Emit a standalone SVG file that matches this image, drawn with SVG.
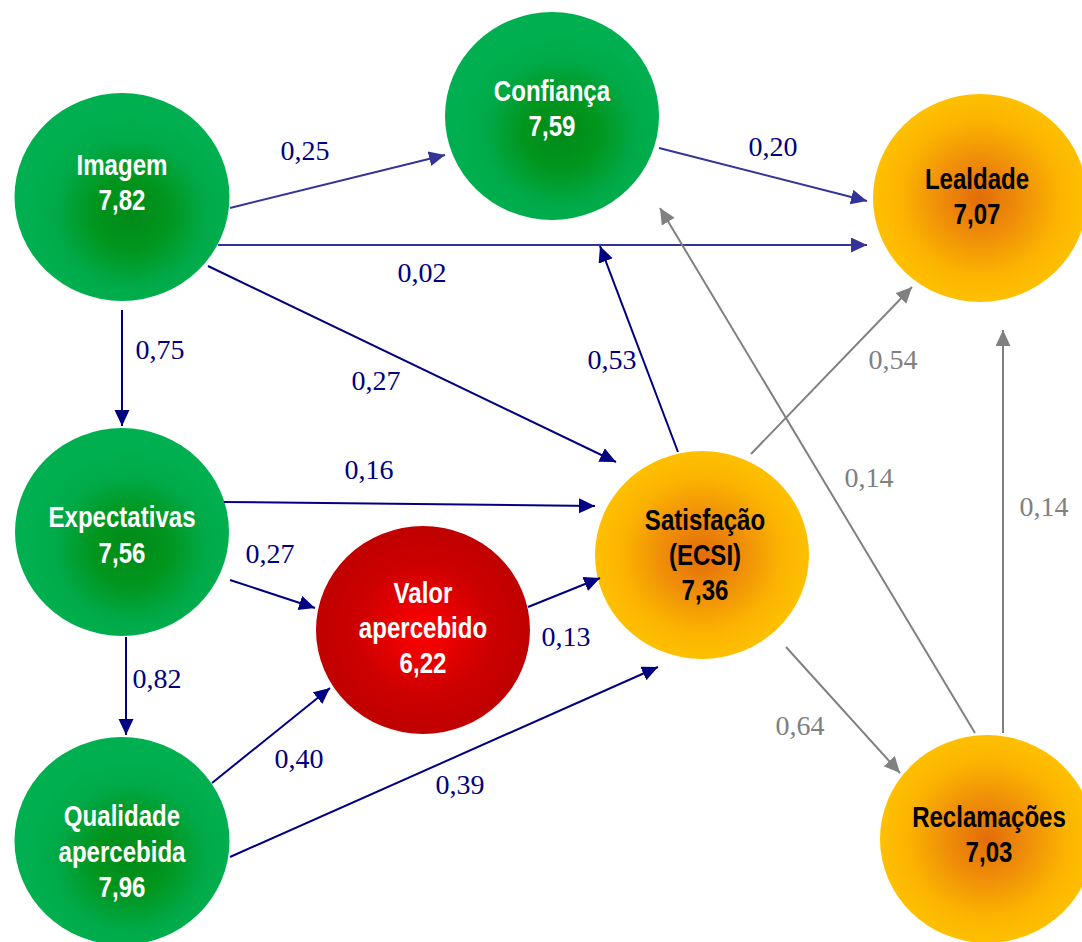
<svg xmlns="http://www.w3.org/2000/svg" width="1082" height="942" viewBox="0 0 1082 942">
<defs>
<style>
.nt{font-family:"Liberation Sans",Arial,sans-serif;font-weight:bold;font-size:29px;text-anchor:middle}
.w{fill:#ffffff}
.k{fill:#000000}
.lb{font-family:"Liberation Serif","Times New Roman",serif;font-size:28px;text-anchor:middle}
.ln{fill:#000080}
.lg{fill:#808080}
.c1{stroke:#333399;stroke-width:2;fill:none;marker-end:url(#a1)}
.c2{stroke:#000080;stroke-width:2;fill:none;marker-end:url(#a2)}
.c3{stroke:#808080;stroke-width:2;fill:none;marker-end:url(#a3)}
</style>
<radialGradient id="gG" cx="0.54" cy="0.58" r="0.5">
<stop offset="0" stop-color="#008A18"/>
<stop offset="0.35" stop-color="#00961E"/>
<stop offset="0.7" stop-color="#00AA48"/>
<stop offset="1" stop-color="#00B050"/>
</radialGradient>
<radialGradient id="gO" cx="0.5" cy="0.5" r="0.5">
<stop offset="0" stop-color="#E36C09"/>
<stop offset="0.4" stop-color="#F09008"/>
<stop offset="0.75" stop-color="#FBB400"/>
<stop offset="1" stop-color="#FFC000"/>
</radialGradient>
<radialGradient id="gR" cx="0.5" cy="0.5" r="0.5">
<stop offset="0" stop-color="#FF0000"/>
<stop offset="0.65" stop-color="#CC0000"/>
<stop offset="1" stop-color="#C00000"/>
</radialGradient>
<marker id="a1" markerUnits="userSpaceOnUse" markerWidth="18" markerHeight="16" refX="16" refY="7.5" orient="auto"><path d="M0,0 L16,7.5 L0,15 z" fill="#333399"/></marker>
<marker id="a2" markerUnits="userSpaceOnUse" markerWidth="18" markerHeight="16" refX="16" refY="7.5" orient="auto"><path d="M0,0 L16,7.5 L0,15 z" fill="#000080"/></marker>
<marker id="a3" markerUnits="userSpaceOnUse" markerWidth="18" markerHeight="16" refX="16" refY="7.5" orient="auto"><path d="M0,0 L16,7.5 L0,15 z" fill="#808080"/></marker>
</defs>
<rect width="1082" height="942" fill="#ffffff"/>

<g id="imagem">
<ellipse cx="122" cy="197" rx="107.5" ry="104" fill="url(#gG)"/>
<text class="nt w" transform="translate(122,175) scale(0.83,1)">Imagem</text>
<text class="nt w" transform="translate(122,210) scale(0.83,1)">7,82</text>
</g>
<g id="confianca">
<ellipse cx="552" cy="116" rx="107" ry="104" fill="url(#gG)"/>
<text class="nt w" transform="translate(552,101) scale(0.83,1)">Confiança</text>
<text class="nt w" transform="translate(552,136) scale(0.83,1)">7,59</text>
</g>
<g id="lealdade">
<ellipse cx="980" cy="198" rx="107" ry="104" fill="url(#gO)"/>
<text class="nt k" transform="translate(977,189) scale(0.83,1)">Lealdade</text>
<text class="nt k" transform="translate(977,224) scale(0.83,1)">7,07</text>
</g>
<g id="expectativas">
<ellipse cx="122" cy="532" rx="107" ry="104" fill="url(#gG)"/>
<text class="nt w" transform="translate(122,527) scale(0.83,1)">Expectativas</text>
<text class="nt w" transform="translate(122,563) scale(0.83,1)">7,56</text>
</g>
<g id="valor">
<ellipse cx="423" cy="630" rx="107" ry="104" fill="url(#gR)"/>
<text class="nt w" transform="translate(423,603) scale(0.83,1)">Valor</text>
<text class="nt w" transform="translate(423,638) scale(0.83,1)">apercebido</text>
<text class="nt w" transform="translate(423,673) scale(0.83,1)">6,22</text>
</g>
<g id="satisfacao">
<ellipse cx="702" cy="555" rx="107" ry="104" fill="url(#gO)"/>
<text class="nt k" transform="translate(705,530) scale(0.83,1)">Satisfação</text>
<text class="nt k" transform="translate(705,565) scale(0.83,1)">(ECSI)</text>
<text class="nt k" transform="translate(705,600) scale(0.83,1)">7,36</text>
</g>
<g id="qualidade">
<ellipse cx="122" cy="841" rx="107.5" ry="104" fill="url(#gG)"/>
<text class="nt w" transform="translate(122,826) scale(0.83,1)">Qualidade</text>
<text class="nt w" transform="translate(122,862) scale(0.83,1)">apercebida</text>
<text class="nt w" transform="translate(122,897) scale(0.83,1)">7,96</text>
</g>
<g id="reclamacoes">
<ellipse cx="987" cy="839" rx="107" ry="104" fill="url(#gO)"/>
<text class="nt k" transform="translate(989,827) scale(0.83,1)">Reclamações</text>
<text class="nt k" transform="translate(989,862) scale(0.83,1)">7,03</text>
</g>

<g id="connectors">
<line class="c1" x1="230" y1="208" x2="445" y2="155"/>
<line class="c1" x1="659" y1="148" x2="867" y2="201"/>
<line class="c1" x1="218" y1="245" x2="867" y2="245"/>
<line class="c2" x1="122" y1="310" x2="122" y2="426"/>
<line class="c2" x1="208" y1="266" x2="616" y2="462"/>
<line class="c2" x1="678" y1="452" x2="600" y2="246"/>
<line class="c2" x1="224" y1="502" x2="595" y2="506"/>
<line class="c2" x1="230" y1="580" x2="315" y2="608"/>
<line class="c2" x1="528" y1="607" x2="600" y2="578"/>
<line class="c2" x1="126" y1="637" x2="126" y2="735"/>
<line class="c2" x1="212" y1="783" x2="330" y2="688"/>
<line class="c2" x1="230" y1="857" x2="658" y2="667"/>
<line class="c3" x1="751" y1="454" x2="912" y2="287"/>
<line class="c3" x1="975" y1="733" x2="660" y2="208"/>
<line class="c3" x1="1003" y1="733" x2="1003" y2="330"/>
<line class="c3" x1="786" y1="647" x2="900" y2="773"/>
</g>

<g id="labels">
<text class="lb ln" x="305" y="160">0,25</text>
<text class="lb ln" x="773" y="156">0,20</text>
<text class="lb ln" x="422" y="282">0,02</text>
<text class="lb ln" x="160" y="359">0,75</text>
<text class="lb ln" x="376" y="390">0,27</text>
<text class="lb ln" x="612" y="369">0,53</text>
<text class="lb lg" x="893" y="369">0,54</text>
<text class="lb ln" x="369" y="479">0,16</text>
<text class="lb lg" x="869" y="487">0,14</text>
<text class="lb lg" x="1044" y="516">0,14</text>
<text class="lb ln" x="270" y="563">0,27</text>
<text class="lb ln" x="566" y="646">0,13</text>
<text class="lb ln" x="157" y="688">0,82</text>
<text class="lb lg" x="800" y="735">0,64</text>
<text class="lb ln" x="299" y="768">0,40</text>
<text class="lb ln" x="460" y="794">0,39</text>
</g>
</svg>
